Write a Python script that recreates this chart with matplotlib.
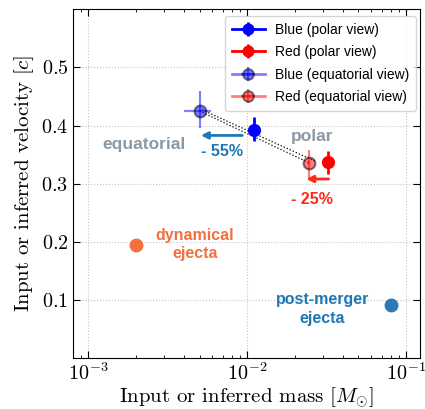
import matplotlib
matplotlib.use("Agg")
import matplotlib.pyplot as plt

plt.rcParams['mathtext.fontset'] = 'cm'
plt.rcParams['font.family'] = 'serif'
plt.rcParams['font.serif'] = ['cmr10', 'DejaVu Serif']
plt.rcParams['axes.formatter.use_mathtext'] = True
plt.rcParams['axes.unicode_minus'] = False

# data
labels = ["Blue (polar view)", "Red (polar view)", "Blue (equatorial view)", "Red (equatorial view)"]
mass = [0.011, 0.0324, 0.0050, 0.0244]
vel = [0.393, 0.337, 0.425, 0.336]
mass_err_lo = [0.0002, 0.0005, 0.0010, 0.0003]
mass_err_hi = [0.0002, 0.0005, 0.0009, 0.0003]
vel_err_lo = [0.020, 0.020, 0.029, 0.027]
vel_err_hi = [0.022, 0.020, 0.035, 0.022]
colors = ["blue", "red", "blue", "red"]
alphas = [1.0, 1.0, 0.5, 0.5]

dyn_mass, dyn_vel = 0.002, 0.194
pm_mass, pm_vel = 0.08, 0.091

fig = plt.figure(figsize=(4.25, 4.09), dpi=100)
ax = fig.add_axes([0.172, 0.125, 0.816, 0.852])
ax.set_xscale('log')
ax.set_xlim(8e-4, 1.22e-1)
ax.set_ylim(0, 0.6)
ax.set_yticks([0.1, 0.2, 0.3, 0.4, 0.5])
ax.grid(True, which='major', ls=':', color='#c4c4c4', lw=0.8)

# dotted connector lines
ax.plot([mass[2], mass[3]], [vel[2], vel[3]], ls=':', color='k', lw=0.9, zorder=2)
ax.plot([mass[2] * 1.04, mass[3] * 1.09], [vel[2] + 0.002, vel[3] + 0.003], ls=':', color='k', lw=0.9, zorder=2)

for i in range(4):
    eq = alphas[i] < 1
    ax.errorbar([mass[i]], [vel[i]],
                xerr=[[mass_err_lo[i]], [mass_err_hi[i]]],
                yerr=[[vel_err_lo[i]], [vel_err_hi[i]]],
                fmt='o', ls='-', lw=2, color=colors[i], ms=8.5, elinewidth=2 if not eq else 1.6,
                mec='k' if eq else colors[i], mew=1.5 if eq else 1,
                alpha=alphas[i], label=labels[i], zorder=3)

ax.plot([dyn_mass], [dyn_vel], 'o', color='#f4703f', ms=9, zorder=3)
ax.plot([pm_mass], [pm_vel], 'o', color='#2a7ab8', ms=9, zorder=3)

tf = dict(family='Liberation Sans', fontweight='bold', ha='center', va='center')
ax.text(0.00224, 0.367, "equatorial", color='#8a99a6', fontsize=12.5, **tf)
ax.text(0.0257, 0.381, "polar", color='#8a99a6', fontsize=12.5, **tf)
ax.text(0.00695, 0.356, "- 55%", color='#1f78b4', fontsize=11.5, **tf)
ax.text(0.0256, 0.273, "- 25%", color='#ff2a1a', fontsize=11.5, **tf)
ax.text(0.00467, 0.195, "dynamical\nejecta", color='#f4703f', fontsize=11.5, linespacing=1.3, **tf)
ax.text(0.0297, 0.084, "post-merger\nejecta", color='#1f78b4', fontsize=11.5, linespacing=1.3, **tf)

ax.annotate("", xy=(0.0051, 0.383), xytext=(0.0093, 0.383),
            arrowprops=dict(arrowstyle='-|>', color='#1f78b4', lw=2, mutation_scale=10, shrinkA=0, shrinkB=0))
ax.annotate("", xy=(0.0235, 0.308), xytext=(0.0325, 0.308),
            arrowprops=dict(arrowstyle='-|>', color='#ff2a1a', lw=2, mutation_scale=10, shrinkA=0, shrinkB=0))

ax.tick_params(which='both', direction='in', top=True, right=True, labelsize=14.5)
ax.tick_params(which='major', length=5)
ax.tick_params(which='minor', length=2.5)

ax.set_xlabel(r"Input or inferred mass $[M_{\odot}]$", fontsize=15, labelpad=1)
ax.set_ylabel(r"Input or inferred velocity $[c]$", fontsize=15)

leg = ax.legend(loc='upper right', bbox_to_anchor=(1 - 4 / 347, 1 - 6.5 / 349),
                prop=dict(family='Liberation Sans', size=10),
                borderaxespad=0, framealpha=0.8, labelspacing=0.6,
                handlelength=2.35, handletextpad=0.72, borderpad=0.5, markerscale=0.9)

fig.savefig("out.png", dpi=100)
